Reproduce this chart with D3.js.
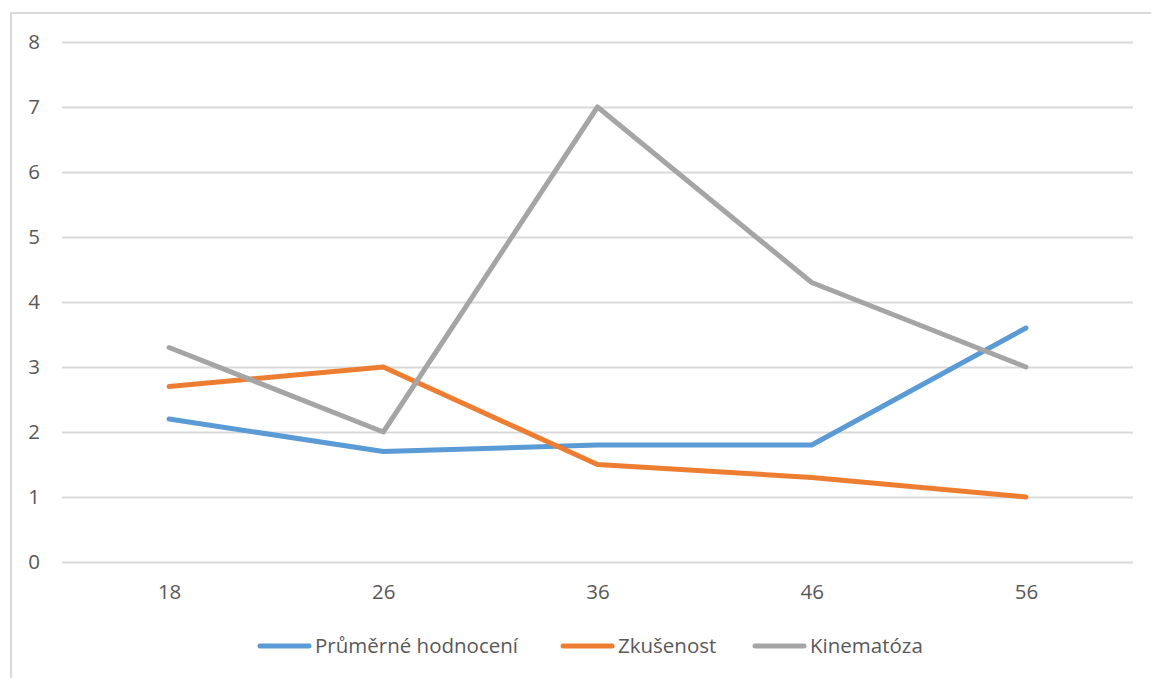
<!DOCTYPE html>
<html>
<head>
<meta charset="utf-8">
<script src="https://cdn.jsdelivr.net/npm/d3@7/dist/d3.min.js"></script>
<style>
  html, body { margin: 0; padding: 0; background: #fff; }
  svg { display: block; }
  text { font-family: "Open Sans", "Liberation Sans", sans-serif; fill: #595959; }
</style>
</head>
<body>
<svg id="chart" width="1151" height="678"></svg>
<script>
// Age groups on the x axis
const categories = ["18", "26", "36", "46", "56"];
// Series values per age group
const prumerneHodnoceni = [2.2, 1.7, 1.8, 1.8, 3.6];
const zkusenost = [2.7, 3.0, 1.5, 1.3, 1.0];
const kinematoza = [3.3, 2.0, 7.0, 4.3, 3.0];
const seriesNames = ["Průměrné hodnocení", "Zkušenost", "Kinematóza"];
const yTicks = [0, 1, 2, 3, 4, 5, 6, 7, 8];

const colors = ["#5B9BD5", "#ED7D31", "#A5A5A5"];
const seriesData = [prumerneHodnoceni, zkusenost, kinematoza];
const fontSize = 20.5;

const svg = d3.select("#chart");

// chart frame
svg.append("rect")
  .attr("x", 11).attr("y", 13)
  .attr("width", 1160).attr("height", 700)
  .attr("fill", "none").attr("stroke", "#d9d9d9").attr("stroke-width", 2);

const plot = { left: 62, right: 1133, top: 42, bottom: 562 };

const x = d3.scalePoint().domain(categories).range([plot.left, plot.right]).padding(0.5);
const y = d3.scaleLinear().domain([0, 8]).range([plot.bottom, plot.top]);

// horizontal gridlines + y labels
const yAxis = d3.axisLeft(y).tickValues(yTicks).tickSize(-(plot.right - plot.left)).tickPadding(22).tickFormat(d3.format("d"));
const gy = svg.append("g").attr("transform", `translate(${plot.left},0)`).call(yAxis);
gy.select(".domain").remove();
gy.selectAll(".tick line").attr("stroke", "#d9d9d9").attr("stroke-width", 2);
gy.selectAll(".tick text").attr("font-size", fontSize).style("fill", "#595959")
  .attr("font-family", "'Open Sans', sans-serif");

// x labels
const xAxis = d3.axisBottom(x).tickSize(0).tickPadding(22);
const gx = svg.append("g").attr("transform", `translate(0,${plot.bottom})`).call(xAxis);
gx.select(".domain").remove();
gx.selectAll(".tick text").attr("font-size", fontSize).style("fill", "#595959")
  .attr("font-family", "'Open Sans', sans-serif");

// series lines
const line = d3.line().x((d, i) => x(categories[i])).y(d => y(d));
seriesData.forEach((vals, k) => {
  svg.append("path")
    .datum(vals)
    .attr("d", line)
    .attr("fill", "none")
    .attr("stroke", colors[k])
    .attr("stroke-width", 5)
    .attr("stroke-linejoin", "round")
    .attr("stroke-linecap", "round");
});

// legend
const legendX = [260, 563, 755];
const legendY = 646;
seriesNames.forEach((name, k) => {
  const g = svg.append("g").attr("transform", `translate(${legendX[k]},${legendY})`);
  g.append("line").attr("x1", 0).attr("x2", 49).attr("y1", 0).attr("y2", 0)
    .attr("stroke", colors[k]).attr("stroke-width", 5).attr("stroke-linecap", "round");
  g.append("text").attr("x", 55).attr("y", 0).attr("dy", "0.35em")
    .attr("font-size", fontSize).text(name);
});
</script>
</body>
</html>
